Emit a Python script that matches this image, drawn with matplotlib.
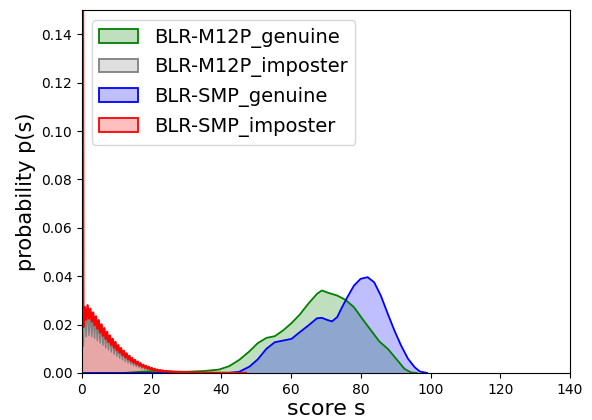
import numpy as np
import matplotlib.pyplot as plt
from matplotlib.patches import Patch
from matplotlib.colors import to_rgba

# genuine score densities
m12p_gen_s = [12, 15, 20, 25, 30, 35, 39.3, 42.2, 45.1, 48.0, 50.4, 52.9, 55.3, 57.7, 60.1,
              62.5, 64.9, 67.4, 68.8, 70.7, 73.2, 75.6, 78.0, 80.4, 82.9, 85.3, 87.7, 90.1,
              92.5, 94.4, 96]
m12p_gen_p = [0.0, 0.0003, 0.0008, 0.0006, 0.0005, 0.0008, 0.0014, 0.0028, 0.0054, 0.0089,
              0.0123, 0.0145, 0.0152, 0.0176, 0.0206, 0.0242, 0.0286, 0.0327, 0.0341, 0.0331,
              0.0320, 0.0302, 0.0272, 0.0224, 0.0176, 0.0130, 0.0100, 0.0059, 0.0017, 0.0002,
              0.0]

smp_gen_s = [0, 42, 45.1, 48.0, 50.4, 52.9, 55.3, 57.7, 60.1, 62.5, 64.9, 67.4, 68.8, 70.2,
             71.7, 73.2, 74.6, 76.1, 78.0, 79.9, 81.9, 83.8, 85.7, 87.7, 89.6, 91.5, 93.5,
             95.4, 96.9, 99]
smp_gen_p = [0.0, 0.0, 0.0005, 0.0026, 0.0056, 0.0100, 0.0127, 0.0134, 0.0141, 0.0169, 0.0196,
             0.0226, 0.0228, 0.0220, 0.0213, 0.0231, 0.0272, 0.0313, 0.0361, 0.0389, 0.0396,
             0.0375, 0.0320, 0.0245, 0.0176, 0.0114, 0.0059, 0.0024, 0.0006, 0.0]

# imposter densities: jagged part, troughs at 0.4+0.8k and peaks at 0.8+0.8k
smp_imp_trough = [0.019, 0.022, 0.0225, 0.0212, 0.0198, 0.0183, 0.0168, 0.0154, 0.0141, 0.0128,
                  0.0116, 0.0105, 0.0094, 0.0084, 0.0074, 0.0065, 0.0057, 0.0049, 0.0042, 0.0036,
                  0.0031, 0.0026, 0.0022, 0.0018, 0.0015, 0.0012, 0.0010, 0.0008, 0.0007, 0.0006]
smp_imp_peak = [0.0272, 0.028, 0.0265, 0.025, 0.0234, 0.0218, 0.0201, 0.0185, 0.017, 0.0155,
                0.0141, 0.0128, 0.0115, 0.0103, 0.0092, 0.0081, 0.0071, 0.0062, 0.0054, 0.0047,
                0.004, 0.0034, 0.0029, 0.0025, 0.0021, 0.0017, 0.0014, 0.0012, 0.0010, 0.0008]
m12p_imp_trough = [0.011, 0.015, 0.0155, 0.015, 0.0143, 0.0134, 0.0124, 0.0114, 0.0104, 0.0095,
                   0.0086, 0.0077, 0.0069, 0.0061, 0.0054, 0.0047, 0.0041, 0.0035, 0.003, 0.0026,
                   0.0022, 0.0018, 0.0015, 0.0013, 0.0011, 0.0009, 0.0007, 0.0006, 0.0005, 0.0004]
m12p_imp_peak = [0.0275, 0.0268, 0.0252, 0.0238, 0.0224, 0.021, 0.0194, 0.0179, 0.0164, 0.015,
                 0.0137, 0.0124, 0.0111, 0.0099, 0.0088, 0.0078, 0.0069, 0.006, 0.0052, 0.0045,
                 0.0039, 0.0033, 0.0028, 0.0024, 0.002, 0.0016, 0.0013, 0.0011, 0.0009, 0.0007]
smp_imp_start = 0.6     # spike at s = 0
m12p_imp_start = 0.012
tail_s = [25, 27, 30, 33, 36, 40, 44, 47]
smp_imp_tail = [0.0006, 0.0004, 0.00025, 0.00015, 0.0001, 0.00005, 0.00002, 0.0]
m12p_imp_tail = [0.0005, 0.0003, 0.0002, 0.0001, 0.00008, 0.00004, 0.00001, 0.0]


def jagged(start, troughs, peaks, tail):
    n = len(troughs)
    s = np.arange(1, 2 * n + 1) * 0.4
    p = np.empty(2 * n)
    p[0::2] = troughs
    p[1::2] = peaks
    s = np.concatenate([[0.0], s, tail_s])
    p = np.concatenate([[start], p, tail])
    return s, p


curves = [
    ("BLR-M12P_genuine", "green", np.array(m12p_gen_s), np.array(m12p_gen_p), 1.3),
    ("BLR-M12P_imposter", "grey", *jagged(m12p_imp_start, m12p_imp_trough, m12p_imp_peak, m12p_imp_tail), 1.0),
    ("BLR-SMP_genuine", "blue", np.array(smp_gen_s), np.array(smp_gen_p), 1.3),
    ("BLR-SMP_imposter", "red", *jagged(smp_imp_start, smp_imp_trough, smp_imp_peak, smp_imp_tail), 1.6),
]

fig = plt.figure(figsize=(5.92, 4.2), dpi=100)
ax = fig.add_axes([0.1385, 0.112, 0.8245, 0.864])

handles = []
for name, c, s, p, lw in curves:
    ax.fill_between(s, p, color=c, alpha=0.25, linewidth=0)
    ax.plot(s, p, color=c, linewidth=lw)
    handles.append(Patch(facecolor=to_rgba(c, 0.25), edgecolor=c, linewidth=1.3, label=name))

ax.set_xlim(0, 140)
ax.set_ylim(0, 0.15)
ax.set_xticks(np.arange(0, 141, 20))
ax.set_yticks(np.arange(0, 0.141, 0.02))
ax.set_xlabel("score s", fontsize=16, labelpad=2)
ax.set_ylabel("probability p(s)", fontsize=15)
ax.legend(handles=handles, loc="upper left", fontsize=14)

plt.savefig("out.png", dpi=100)
